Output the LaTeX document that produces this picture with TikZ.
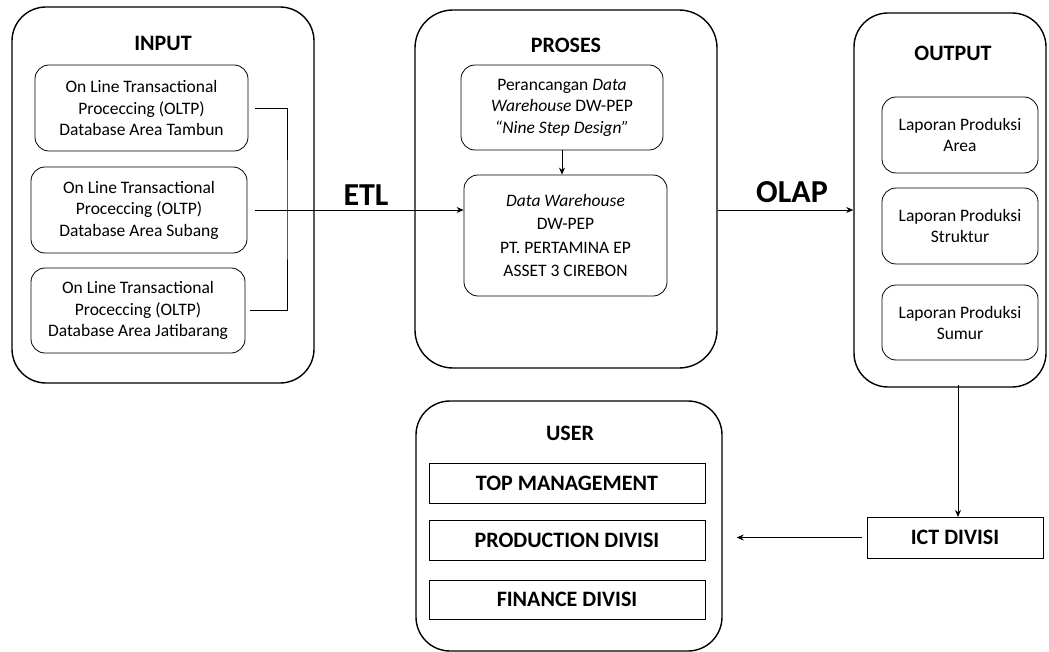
\documentclass[tikz,border=0pt]{standalone}
\usepackage{fontspec}
\setmainfont{Carlito}
\usetikzlibrary{arrows.meta}
\begin{document}
\begin{tikzpicture}[x=1pt,y=-1pt,
  group/.style={draw, line width=1.4pt, rounded corners=34pt, inner sep=0pt},
  item/.style={draw, line width=0.8pt, rounded corners=14pt, align=center, inner sep=0pt,
    font=\fontsize{17.5}{21.5}\selectfont},
  flat/.style={draw, line width=0.8pt, inner sep=0pt, font=\fontsize{22}{24}\bfseries\selectfont},
  title/.style={font=\fontsize{22}{24}\bfseries\selectfont, inner sep=0pt},
  flowlabel/.style={font=\fontsize{32}{34}\bfseries\selectfont, inner sep=0pt},
  link/.style={line width=0.8pt},
  flow/.style={line width=0.8pt, -{Stealth[length=7pt,width=6pt]}}]
\useasboundingbox (0,0) rectangle (1049,652);

% INPUT group
\node[group, minimum width=302pt, minimum height=376pt] (input) at (163,195) {};
\node[title] (tin) at (163,43) {INPUT};
\node[item, minimum width=213pt, minimum height=86pt] (a1) at (141.5,108)
  {On Line Transactional\\Proceccing (OLTP)\\Database Area Tambun};
\node[item, minimum width=216pt, minimum height=86pt] (a2) at (139,210)
  {On Line Transactional\\Proceccing (OLTP)\\Database Area Subang};
\node[item, minimum width=214pt, minimum height=85pt] (a3) at (138,310.5)
  {On Line Transactional\\Proceccing (OLTP)\\Database Area Jatibarang};
\coordinate (bus) at (287,210);

% PROSES group
\node[group, rounded corners=38pt, minimum width=302pt, minimum height=358pt] (proses) at (566,189) {};
\node[title] (tpr) at (566,45) {PROSES};
\node[item, minimum width=202pt, minimum height=85pt] (pr) at (562,107.5)
  {Perancangan \textit{Data}\\\textit{Warehouse} DW-PEP\\\textit{\char"201C Nine Step Design\char"201D}};
\node[item, minimum width=203pt, minimum height=121pt, font=\fontsize{17.5}{23.3}\selectfont] (dw) at (565.5,235.5)
  {\textit{Data Warehouse}\\DW-PEP\\PT. PERTAMINA EP\\ASSET 3 CIREBON};

% OUTPUT group
\node[group, minimum width=192pt, minimum height=374pt] (output) at (950,200) {};
\node[title] (tout) at (953,53) {OUTPUT};
\node[item, minimum width=156pt, minimum height=76pt, font=\fontsize{17.5}{21}\selectfont] (l1) at (960,135)
  {Laporan Produksi\\Area};
\node[item, minimum width=156pt, minimum height=76pt, font=\fontsize{17.5}{21}\selectfont] (l2) at (960,226)
  {Laporan Produksi\\Struktur};
\node[item, minimum width=156pt, minimum height=75pt, font=\fontsize{17.5}{21}\selectfont] (l3) at (960,322.5)
  {Laporan Produksi\\Sumur};

% USER group
\node[group, minimum width=306pt, minimum height=250pt] (user) at (569,526) {};
\node[title] (tus) at (570,433) {USER};
\node[flat, minimum width=276pt, minimum height=40pt] (u1) at (567,483) {TOP MANAGEMENT};
\node[flat, minimum width=276pt, minimum height=40pt] (u2) at (567,540) {PRODUCTION DIVISI};
\node[flat, minimum width=276pt, minimum height=39pt] (u3) at (567,599.5) {FINANCE DIVISI};

% ICT DIVISI
\node[flat, minimum width=176pt, minimum height=41pt] (ict) at (955,537.5) {ICT DIVISI};

% connectors
\draw[link] ([xshift=7pt]a1.east) -| (bus) |- ([xshift=5pt]a3.east);
\draw[flow] ([xshift=8pt]a2.east) -- (a2.east -| dw.west);
\node[flowlabel] (etl) at (366,195) {ETL};
\draw[flow] (pr.south) -- (pr.south |- dw.north);
\draw[flow] (a2.east -| proses.east) -- (a2.east -| output.west);
\node[flowlabel] (olap) at (792,192) {OLAP};
\draw[flow] ([yshift=3pt]output.south -| 958,0) -- (958,517);
\draw[flow] ([xshift=-5pt]ict.west) -- ([xshift=14pt]ict.west -| user.east);
\end{tikzpicture}
\end{document}
